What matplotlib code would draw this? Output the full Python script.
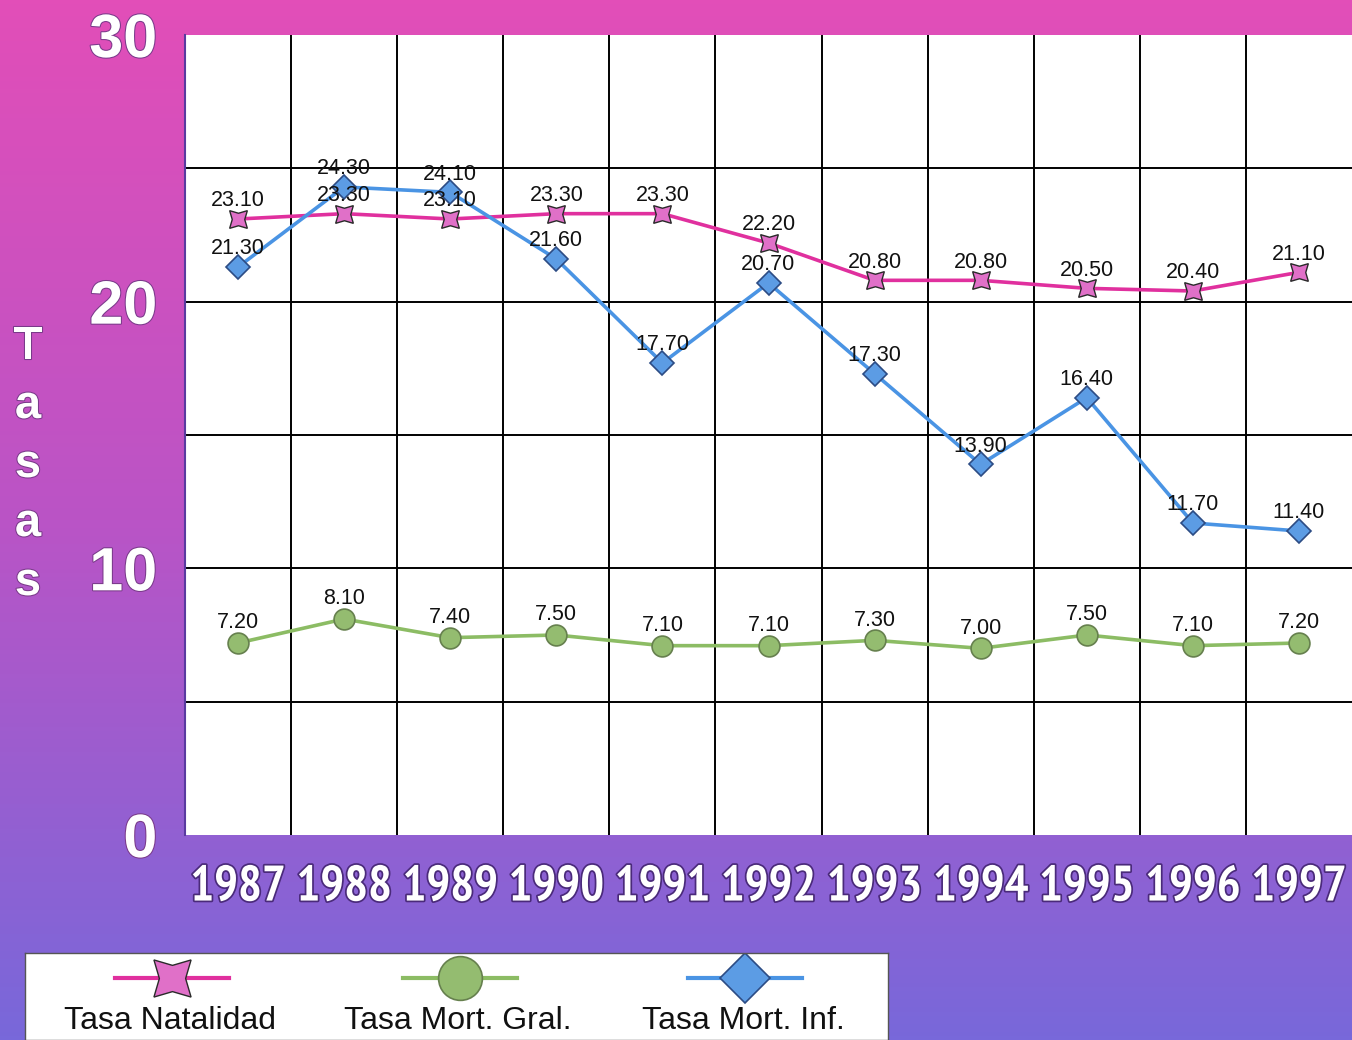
import matplotlib.pyplot as plt
import matplotlib.patheffects as pe
from matplotlib import font_manager as fm
import numpy as np

years = ['1987', '1988', '1989', '1990', '1991', '1992', '1993', '1994', '1995', '1996', '1997']
natalidad = [23.10, 23.30, 23.10, 23.30, 23.30, 22.20, 20.80, 20.80, 20.50, 20.40, 21.10]
mort_gral = [7.20, 8.10, 7.40, 7.50, 7.10, 7.10, 7.30, 7.00, 7.50, 7.10, 7.20]
mort_inf = [21.30, 24.30, 24.10, 21.60, 17.70, 20.70, 17.30, 13.90, 16.40, 11.70, 11.40]
names = ['Tasa Natalidad', 'Tasa Mort. Gral.', 'Tasa Mort. Inf.']

# pick a condensed bold face for the year labels, Arial Narrow-like if present
bold_faces = [f for f in fm.fontManager.ttflist if f.weight in ('bold', 700)]
narrow = [f for f in bold_faces if 'Narrow' in f.name]
cond = [f for f in bold_faces if 'Condensed' in f.name or f.stretch in ('condensed', 'semi-condensed')]
if narrow:
    year_font = dict(family=narrow[0].name, fontsize=36)
elif cond:
    year_font = dict(family=cond[0].name, stretch=cond[0].stretch, fontsize=29)
else:
    year_font = dict(family='Liberation Sans', fontsize=30)

W, H = 1352, 1040
fig = plt.figure(figsize=(W / 100, H / 100), dpi=100)

# background gradient pink -> purple
bg = fig.add_axes([0, 0, 1, 1], zorder=-10)
t = np.linspace(0, 1, 256)[:, None]
top = np.array([226, 78, 184]) / 255
mid = np.array([186, 84, 198]) / 255
bot = np.array([120, 104, 218]) / 255
col = np.where(t < 0.5, top + (mid - top) * (t / 0.5), mid + (bot - mid) * ((t - 0.5) / 0.5))
grad = np.repeat(col[:, None, :], 2, axis=1).reshape(256, 2, 3)
bg.imshow(grad, aspect='auto', extent=[0, 1, 0, 1])
bg.axis('off')

ax = fig.add_axes([185 / W, 1 - 835 / H, 1 - 185 / W, (835 - 35) / H])
ax.set_facecolor('white')
x = np.arange(len(years))
ax.set_xlim(-0.5, len(years) - 0.5)
ax.set_ylim(0, 30)

for v in range(5, 30, 5):
    ax.axhline(v, color='black', lw=1.4, zorder=1)
for b in x[:-1] + 0.5:
    ax.axvline(b, color='black', lw=1.4, zorder=1)

for s in ['top', 'right', 'bottom']:
    ax.spines[s].set_visible(False)
ax.spines['left'].set_color('#5a3aa0')
ax.spines['left'].set_linewidth(1.5)

star = (4, 1, 45)
st_nat = dict(color='#e0309e', lw=2.6, marker=star, ms=18, mfc='#e070c8', mec='#2a2a2a', mew=1.0)
st_gral = dict(color='#8cbc64', lw=2.6, marker='o', ms=15, mfc='#94bc70', mec='#66804e', mew=1.2)
st_inf = dict(color='#4a94e4', lw=2.6, marker='D', ms=12, mfc='#5c9ce4', mec='#2c4c84', mew=1.2)

ax.plot(x, natalidad, zorder=3, **st_nat)
ax.plot(x, mort_gral, zorder=3, **st_gral)
ax.plot(x, mort_inf, zorder=4, **st_inf)

for vals, off in [(natalidad, 18), (mort_inf, 18), (mort_gral, 20)]:
    for xi, v in zip(x, vals):
        ax.annotate(f'{v:.2f}', (xi, v), xytext=(0, off), textcoords='offset pixels',
                    ha='center', va='center', fontsize=15.5, family='Liberation Sans',
                    color='#111111', zorder=5)

ax.set_yticks([0, 10, 20, 30])
ax.set_yticklabels(['0', '10', '20', '30'], fontsize=44, fontweight='bold',
                   family='Liberation Sans', color='white')
ax.tick_params(axis='y', length=0, pad=20)
for lab in ax.get_yticklabels():
    lab.set_path_effects([pe.withStroke(linewidth=1.5, foreground='#7a3a8a')])

ax.set_xticks(x)
ax.set_xticklabels(years, fontweight='bold', color='white', **year_font)
ax.tick_params(axis='x', length=0, pad=22)
for lab in ax.get_xticklabels():
    lab.set_path_effects([pe.withStroke(linewidth=2.5, foreground='#4a2a7a')])

# vertical stacked axis title
for i, ch in enumerate('Tasas'):
    fig.text(28 / W, 1 - (347 + i * 59) / H, ch, ha='center', va='center', fontsize=34,
             fontweight='bold', family='Liberation Sans', color='white',
             path_effects=[pe.withStroke(linewidth=1.5, foreground='#7a3a8a')])

# legend box
lg = fig.add_axes([25 / W, 0, (888 - 25) / W, (1040 - 953) / H])
lg.set_xlim(25, 888)
lg.set_ylim(1040, 953)
lg.set_facecolor('white')
for s in lg.spines.values():
    s.set_color('#555555')
    s.set_linewidth(1.0)
lg.set_xticks([])
lg.set_yticks([])
leg_styles = [st_nat, st_gral, st_inf]
leg_cx = [172, 460, 745]
for cx, name, st in zip(leg_cx, names, leg_styles):
    big = dict(st)
    big['ms'] = st['ms'] * 2.1
    big['markevery'] = [1]
    big['lw'] = 3
    lg.plot([cx - 57, cx, cx + 57], [978, 978, 978], **big)
    lg.text(cx - 2, 1021, name, ha='center', va='center', fontsize=23,
            family='Liberation Sans', color='#111111')

fig.savefig('out.png', dpi=100)
